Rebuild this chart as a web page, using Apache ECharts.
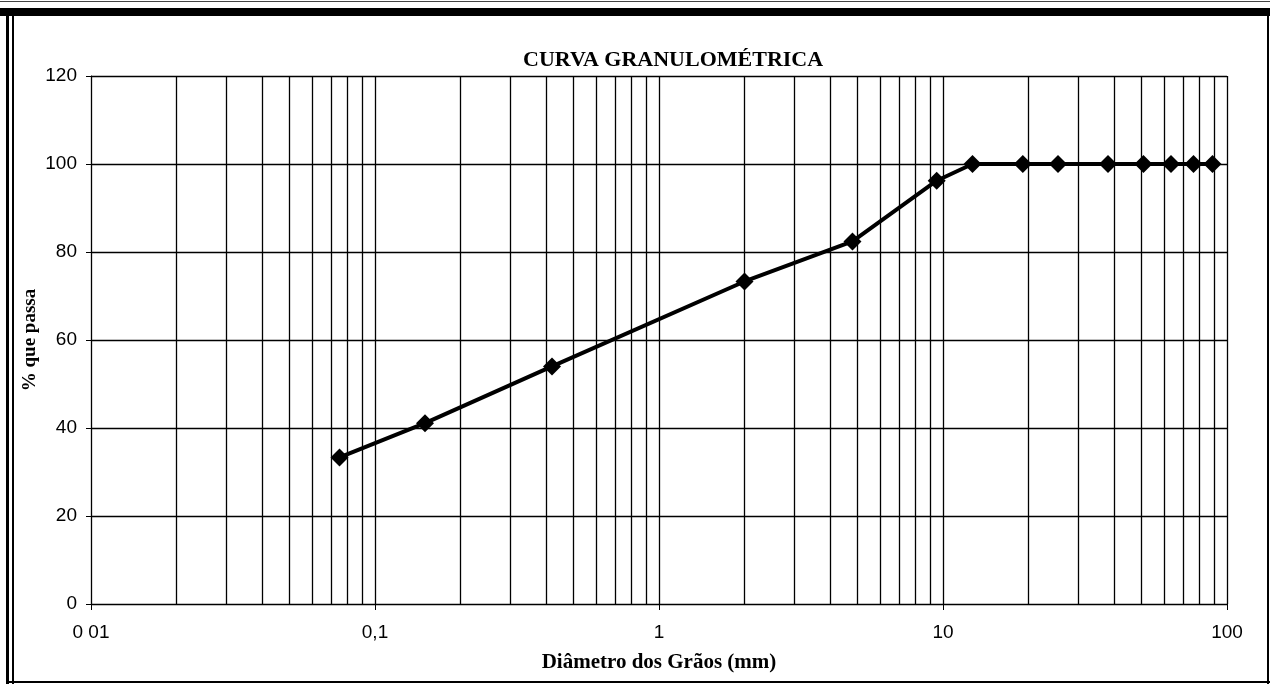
<!DOCTYPE html>
<html>
<head>
<meta charset="utf-8">
<script src="https://cdn.jsdelivr.net/npm/echarts@6/dist/echarts.min.js"></script>
<style>
html, body { margin: 0; padding: 0; background: #fff; }
#chart { width: 1270px; height: 684px; }
</style>
</head>
<body>
<div id="chart"></div>
<script>
// peneiras (mm) e % que passa
const diametros = [0.075, 0.15, 0.42, 2.0, 4.8, 9.5, 12.7, 19.1, 25.4, 38.1, 50.8, 63.5, 76.2, 88.9];
const passante = [33.3, 41.1, 54, 73.3, 82.4, 96.2, 100, 100, 100, 100, 100, 100, 100, 100];

// linhas secundarias da escala log
const linhasLog = [
    0.02, 0.03, 0.04, 0.05, 0.06, 0.07, 0.08, 0.09,
    0.2, 0.3, 0.4, 0.5, 0.6, 0.7, 0.8, 0.9,
    2, 3, 4, 5, 6, 7, 8, 9,
    20, 30, 40, 50, 60, 70, 80, 90
];
const rotulosX = { '0.01': '0 01', '0.1': '0,1', '1': '1', '10': '10', '100': '100' };

const chart = echarts.init(document.getElementById('chart'));

const option = {
    backgroundColor: '#fff',
    animation: false,
    title: {
        text: 'CURVA GRANULOMÉTRICA',
        left: 518,
        top: 44,
        textStyle: { fontFamily: 'Liberation Serif', fontWeight: 'bold', fontSize: 22, color: '#000' }
    },
    grid: { left: 91, right: 43, top: 76, bottom: 80 },
    graphic: [
        { type: 'rect', shape: { x: 0, y: 8, width: 1270, height: 8 }, style: { fill: '#000' } },
        { type: 'rect', shape: { x: 6, y: 8, width: 3, height: 676 }, style: { fill: '#000' } },
        { type: 'rect', shape: { x: 12, y: 8, width: 2, height: 676 }, style: { fill: '#000' } },
        { type: 'rect', shape: { x: 6, y: 681, width: 1264, height: 2 }, style: { fill: '#000' } },
        { type: 'rect', shape: { x: 1267, y: 8, width: 2, height: 676 }, style: { fill: '#000' } },
        { type: 'rect', shape: { x: 0, y: 1, width: 1270, height: 1 }, style: { fill: '#444' } }
    ],
    xAxis: {
        type: 'log',
        logBase: 10,
        min: 0.01,
        max: 100,
        name: 'Diâmetro dos Grãos (mm)',
        nameLocation: 'middle',
        nameGap: 48,
        nameTextStyle: { fontFamily: 'Liberation Serif', fontWeight: 'bold', fontSize: 21, color: '#000' },
        axisLine: { onZero: false, lineStyle: { color: '#000', width: 1 } },
        axisTick: { show: true, length: 6, lineStyle: { color: '#000' } },
        axisLabel: {
            margin: 19,
            fontFamily: 'Liberation Sans',
            fontSize: 19,
            color: '#000',
            formatter: function (v) {
                const k = String(+v.toPrecision(3));
                return rotulosX[k] !== undefined ? rotulosX[k] : k;
            }
        },
        splitLine: { show: true, lineStyle: { color: '#000', width: 1.3 } }
    },
    yAxis: {
        type: 'value',
        min: 0,
        max: 120,
        interval: 20,
        name: '% que passa',
        nameLocation: 'middle',
        nameGap: 51,
        nameMoveOverlap: false,
        nameTextStyle: { fontFamily: 'Liberation Serif', fontWeight: 'bold', fontSize: 19, color: '#000' },
        axisLine: { show: true, lineStyle: { color: '#000', width: 1 } },
        axisTick: { show: true, length: 5, lineStyle: { color: '#000' } },
        axisLabel: { margin: 14, fontFamily: 'Liberation Sans', fontSize: 19, color: '#000' },
        splitLine: { show: true, lineStyle: { color: '#000', width: 1.3 } }
    },
    series: [
        {
            type: 'line',
            data: diametros.map((d, i) => [d, passante[i]]),
            symbol: 'diamond',
            symbolSize: 18,
            itemStyle: { color: '#000' },
            lineStyle: { color: '#000', width: 4 },
            z: 5,
            markLine: {
                silent: true,
                symbol: 'none',
                label: { show: false },
                lineStyle: { color: '#000', width: 1.3, type: 'solid' },
                data: linhasLog.map(v => ({ xAxis: v }))
            }
        }
    ]
};

chart.setOption(option);
window.addEventListener('resize', () => chart.resize());
</script>
</body>
</html>
